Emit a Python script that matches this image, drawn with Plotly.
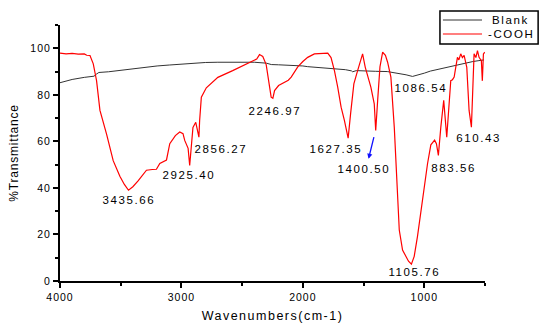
import plotly.graph_objects as go

# FTIR spectra
blank_wn = [4000, 3900, 3800, 3720, 3700, 3680, 3600, 3500, 3400, 3300, 3200, 3100, 3000,
            2900, 2800, 2700, 2600, 2500, 2400, 2300, 2260, 2200, 2100, 2000, 1960, 1900,
            1800, 1740, 1650, 1600, 1590, 1560, 1494, 1400, 1305, 1223, 1150, 1097, 1050,
            1000, 950, 864, 800, 754, 700, 647, 600, 550, 508]
blank_t = [85.2, 86.6, 87.5, 88.0, 88.9, 89.6, 89.9, 90.6, 91.2, 91.8, 92.4, 92.8, 93.2,
           93.6, 93.9, 94.0, 94.1, 94.1, 94.0, 93.6, 93.0, 92.9, 92.7, 92.4, 92.1, 91.9,
           91.6, 91.2, 90.8, 90.3, 89.9, 90.4, 90.2, 90.1, 90.0, 89.3, 88.6, 87.9, 88.5,
           89.3, 90.2, 91.2, 92.0, 92.6, 93.2, 94.0, 94.3, 94.7, 95.0]

cooh_wn = [4000, 3950, 3900, 3850, 3800, 3780, 3753, 3726, 3699, 3671, 3616, 3562, 3507,
           3470, 3436, 3400, 3357, 3288, 3240, 3206, 3178, 3123, 3096, 3050, 3014, 2987,
           2973, 2959, 2945, 2932, 2918, 2905, 2882, 2869, 2856, 2850, 2836, 2795, 2700,
           2578, 2500, 2414, 2380, 2357, 2330, 2302, 2280, 2261, 2247, 2233, 2200, 2178,
           2151, 2120, 2096, 2042, 2000, 1960, 1905, 1850, 1795, 1768, 1740, 1713, 1685,
           1658, 1640, 1627, 1607, 1580, 1549, 1527, 1508, 1486, 1465, 1453, 1440, 1412,
           1400, 1384, 1365, 1343, 1320, 1302, 1275, 1247, 1233, 1220, 1206, 1179, 1151,
           1130, 1106, 1083, 1056, 1028, 1000, 973, 946, 915, 900, 884, 864, 840, 815,
           795, 782, 768, 754, 741, 727, 715, 700, 686, 672, 650, 631, 612, 600, 590,
           575, 562, 549, 530, 522, 513, 502]
cooh_t = [97.9, 97.6, 97.8, 97.5, 97.6, 97.0, 96.9, 93.3, 86.1, 73.3, 63.0, 51.7, 45.0,
          41.5, 39.0, 40.5, 43.0, 47.6, 47.9, 48.0, 50.5, 52.0, 59.0, 62.5, 64.0, 63.3,
          60.4, 59.0, 57.0, 49.7, 60.4, 66.0, 68.2, 64.7, 61.8, 69.0, 79.0, 83.0, 87.5,
          90.4, 92.5, 94.7, 95.4, 97.3, 96.5, 93.0, 86.0, 79.0, 78.5, 81.8, 84.0, 84.7,
          85.4, 86.3, 87.6, 92.0, 94.3, 96.1, 97.6, 97.9, 97.9, 96.0, 90.4, 83.3, 74.7,
          69.0, 65.0, 61.4, 71.8, 84.7, 90.4, 94.7, 97.6, 91.8, 88.0, 86.8, 83.3, 76.1,
          64.7, 77.6, 92.0, 98.3, 97.0, 94.0, 87.6, 66.0, 50.5, 36.3, 21.9, 13.3, 10.6,
          8.5, 7.2, 10.6, 19.2, 30.5, 41.9, 50.5, 58.5, 60.5, 59.0, 54.0, 66.0, 77.6,
          61.8, 77.6, 86.1, 86.5, 87.6, 91.8, 96.1, 95.0, 97.6, 96.0, 96.9, 91.8, 73.3,
          66.1, 86.0, 97.6, 96.0, 99.0, 96.1, 94.7, 86.0, 97.6, 98.3]

peak_labels = ["3435.66", "2925.40", "2856.27", "2246.97", "1627.35", "1400.50",
               "1086.54", "1105.76", "883.56", "610.43"]
label_wn = [3433, 2940, 2671, 2229, 1728, 1496, 1030, 1080, 758, 555]
label_t = [34.6, 45.5, 56.8, 73.2, 56.8, 48.1, 83.0, 4.0, 48.4, 61.5]

series_names = ["Blank", "-COOH"]
series_colors = ["#333333", "#ff0000"]

font = "Liberation Sans, Arial, sans-serif"

fig = go.Figure()
fig.add_trace(go.Scatter(x=blank_wn, y=blank_t, mode="lines", name=series_names[0],
                         line=dict(color=series_colors[0], width=1)))
fig.add_trace(go.Scatter(x=cooh_wn, y=cooh_t, mode="lines", name=series_names[1],
                         line=dict(color=series_colors[1], width=1.2)))

for txt, x, y in zip(peak_labels, label_wn, label_t):
    fig.add_annotation(x=x, y=y, text=txt, showarrow=False,
                       font=dict(family=font, size=11.5, color="black"))

# blue arrow pointing at the 1400.50 label
fig.add_annotation(x=1459, y=52.5, ax=1412, ay=62.5, axref="x", ayref="y",
                   text="", showarrow=True, arrowhead=2, arrowsize=0.8,
                   arrowwidth=1.3, arrowcolor="#1010ff")

# compact boxed legend in the top right corner, Origin style
fig.add_shape(type="rect", xref="paper", yref="paper", x0=0.894, x1=1.125,
              y0=0.926, y1=1.0547, line=dict(color="black", width=1.5),
              fillcolor="white", layer="above")
for i, (name, color) in enumerate(zip(series_names, series_colors)):
    row_y = 1.0195 - i * 0.0547
    fig.add_shape(type="line", xref="paper", yref="paper", x0=0.901, x1=0.993,
                  y0=row_y, y1=row_y, line=dict(color=color, width=1.2), layer="above")
    fig.add_annotation(xref="paper", yref="paper", x=1.06, y=row_y, text=name,
                       showarrow=False, xanchor="center", yanchor="middle",
                       font=dict(family=font, size=11.5, color="black"))

axis_common = dict(showline=True, linecolor="black", linewidth=2, ticks="outside",
                   ticklen=5, tickwidth=1.5, tickcolor="black", showgrid=False,
                   zeroline=False, mirror=False, automargin=False,
                   tickfont=dict(family=font, size=10.5, color="black"))

fig.update_xaxes(range=[4000, 500], dtick=1000, tick0=0,
                 minor=dict(dtick=500, ticks="outside", ticklen=3, tickcolor="black"),
                 title=dict(text="Wavenumbers(cm-1)", standoff=10,
                            font=dict(family=font, size=12.5, color="black")),
                 **axis_common)
fig.update_yaxes(range=[0, 110], dtick=20, tick0=0,
                 minor=dict(dtick=10, ticks="outside", ticklen=3, tickcolor="black"),
                 title=dict(text="%Transmittance", standoff=12,
                            font=dict(family=font, size=12, color="black")),
                 **axis_common)

fig.update_layout(
    width=550, height=326,
    margin=dict(l=60, r=65, t=25, b=45, autoexpand=False),
    plot_bgcolor="white", paper_bgcolor="white",
    showlegend=False,
)

# drop the page margin and widen the lettering like the original export
spacing_js = """
document.body.style.margin = '0';
var gd = document.getElementById('{plot_id}');
function spread() {
  gd.querySelectorAll('.annotation-text').forEach(function(t){ t.style.letterSpacing = '1.6px'; });
  gd.querySelectorAll('.xtick text, .ytick text').forEach(function(t){ t.style.letterSpacing = '1px'; });
  gd.querySelectorAll('.g-xtitle text').forEach(function(t){ t.style.letterSpacing = '1.5px'; });
  gd.querySelectorAll('.g-ytitle text').forEach(function(t){ t.style.letterSpacing = '0.8px'; });
}
spread();
gd.on('plotly_afterplot', spread);
"""

fig.write_html("out.html", post_script=spacing_js, config={"displayModeBar": False})
